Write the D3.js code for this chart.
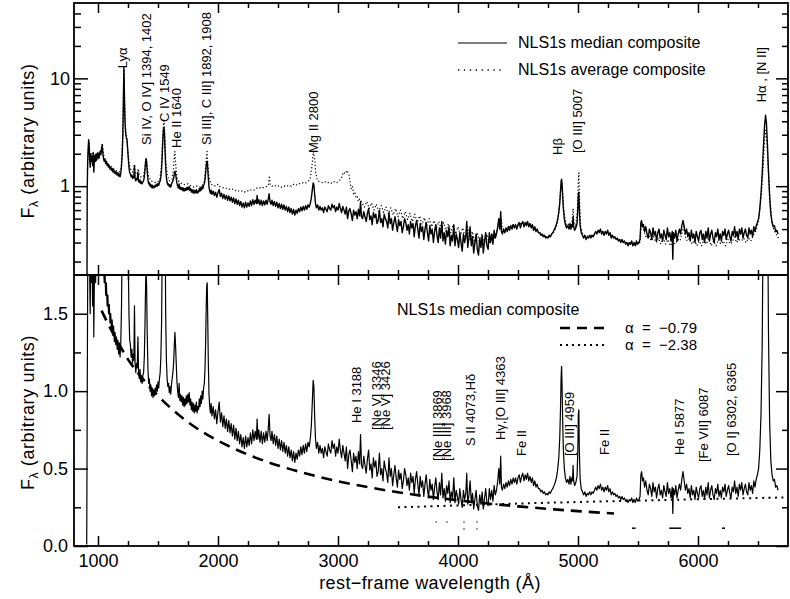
<!DOCTYPE html>
<html>
<head>
<meta charset="utf-8">
<script src="https://cdn.jsdelivr.net/npm/d3@7/dist/d3.min.js"></script>
<style>
  body { margin: 0; background: #fff; }
  svg { display: block; font-family: "Liberation Sans", Arial, sans-serif; }
</style>
</head>
<body>
<svg id="graphArea" width="790" height="599"></svg>
<script>

/* データ ( 波長 Å, フラックス ) */

// メジアン合成スペクトル ( 紫外 )
const medianUV = [
  [906,0.01],[910,0.9],[914,1.7],[918,2.2],[922,2.7],[926,2.4],[930,1.8],[935,1.5],[940,2.0],[945,1.7],
  [950,1.9],[955,1.55],[960,2.05],[965,1.35],[970,1.75],[975,1.95],[980,1.7],[985,2.0],[990,1.75],[995,1.95],
  [1000,2.05],[1006,1.8],[1012,1.95],[1018,2.1],[1024,1.95],[1030,2.25],[1035,2.4],[1040,2.05],[1046,1.8],[1052,1.7],
  [1058,1.78],[1064,1.62],[1070,1.7],[1076,1.55],[1082,1.62],[1088,1.5],[1094,1.56],[1100,1.44],[1106,1.5],[1112,1.4],
  [1118,1.46],[1124,1.36],[1130,1.42],[1136,1.32],[1142,1.38],[1148,1.3],[1154,1.35],[1160,1.27],[1166,1.33],[1172,1.24],
  [1178,1.3],[1184,1.22],[1190,1.32],[1196,1.55],[1202,2.0],[1207,3.0],[1211,5.5],[1214,9.5],[1216,12.6],[1218,10.0],
  [1221,6.0],[1225,4.0],[1230,3.1],[1236,2.8],[1241,2.75],[1246,2.3],[1252,1.85],[1258,1.5],[1264,1.33],[1270,1.3],
  [1276,1.22],[1282,1.27],[1288,1.18],[1294,1.24],[1299,1.2],[1304,1.55],[1309,1.18],[1315,1.12],[1321,1.18],[1327,1.15],
  [1333,1.35],[1338,1.12],[1344,1.08],[1350,1.14],[1356,1.06],[1362,1.1],[1368,1.05],[1374,1.1],[1380,1.12],[1386,1.22],
  [1392,1.45],[1397,1.7],[1401,1.78],[1405,1.68],[1410,1.38],[1416,1.15],[1422,1.05],[1428,1.08],[1434,1.0],[1440,1.04],
  [1446,0.97],[1452,1.02],[1458,0.96],[1464,1.0],[1470,0.97],[1476,1.02],[1482,0.99],[1488,1.04],[1494,1.0],[1500,1.06],
  [1506,1.02],[1512,1.08],[1518,1.12],[1524,1.22],[1530,1.45],[1536,2.0],[1541,2.8],[1546,3.4],[1550,3.5],[1554,3.0],
  [1559,2.1],[1564,1.5],[1570,1.2],[1576,1.08],[1582,1.03],[1588,1.05],[1594,0.99],[1600,1.03],[1606,0.98],[1612,1.04],
  [1618,1.08],[1624,1.12],[1630,1.18],[1636,1.3],[1641,1.38],[1646,1.3],[1652,1.18],[1658,1.06],[1664,1.0],[1670,0.96],
  [1676,1.05],[1682,0.94],[1688,0.98],[1694,0.93],[1700,0.97],[1706,0.91],[1712,0.96],[1718,0.9],[1724,0.95],[1730,0.91],
  [1736,0.97],[1742,0.92],[1748,0.98],[1754,0.93],[1760,0.99],[1766,0.91],[1772,0.95],[1778,0.88],[1784,0.93],[1790,0.87],
  [1796,0.92],[1802,0.86],[1808,0.91],[1814,0.87],[1820,0.93],[1826,0.86],[1832,0.9],[1838,0.88],[1844,0.95],[1850,0.9],
  [1856,0.97],[1862,0.92],[1868,1.0],[1874,0.95],[1880,1.02],[1886,1.05],[1892,1.15],[1897,1.32],[1902,1.55],[1906,1.68],
  [1910,1.7],[1914,1.5],[1919,1.2],[1925,0.98],[1931,0.9],[1937,0.86],[1943,0.92]
];

// メジアン合成スペクトル ( 近紫外 )
const medianNUV = [
  [1950,0.84],[1960,0.9],[1970,0.82],[1980,0.88],[1990,0.79],[2000,0.87],[2010,0.93],[2020,0.8],[2030,0.86],[2040,0.77],
  [2050,0.84],[2060,0.76],[2070,0.82],[2080,0.74],[2090,0.81],[2100,0.73],[2110,0.79],[2120,0.71],[2130,0.78],[2140,0.69],
  [2150,0.76],[2160,0.68],[2170,0.74],[2180,0.66],[2190,0.72],[2200,0.64],[2210,0.7],[2220,0.63],[2230,0.71],[2240,0.64],
  [2250,0.7],[2260,0.65],[2270,0.73],[2280,0.66],[2290,0.75],[2300,0.68],[2310,0.74],[2320,0.69],[2326,0.82],[2332,0.69],
  [2340,0.75],[2350,0.67],[2360,0.74],[2370,0.66],[2380,0.73],[2390,0.67],[2400,0.74],[2410,0.68],[2418,0.75],[2426,0.85],
  [2434,0.71],[2442,0.68],[2450,0.74],[2460,0.66],[2470,0.72],[2480,0.65],[2490,0.71],[2500,0.63],[2510,0.69],[2520,0.62],
  [2530,0.68],[2540,0.61],[2550,0.67],[2560,0.6],[2570,0.65],[2580,0.58],[2590,0.64],[2600,0.57],[2610,0.62],[2620,0.55],
  [2630,0.61],[2640,0.54],[2650,0.6],[2660,0.56],[2670,0.62],[2680,0.58],[2690,0.64],[2700,0.59],[2710,0.65],[2720,0.6],
  [2730,0.66],[2740,0.61],[2750,0.67],[2760,0.64],[2770,0.7],[2778,0.78],[2786,0.93],[2793,1.07],[2799,1.03],[2805,0.85],
  [2812,0.7],[2820,0.63],[2830,0.67],[2840,0.6],[2850,0.65],[2860,0.6],[2870,0.63],[2880,0.57],[2890,0.64],[2900,0.61],
  [2910,0.58],[2920,0.66],[2930,0.62],[2940,0.6],[2950,0.68],[2960,0.63],[2970,0.66],[2980,0.58],[2990,0.64],[3000,0.6],
  [3010,0.69],[3020,0.62],[3030,0.57],[3040,0.65],[3050,0.6],[3060,0.55],[3070,0.64],[3080,0.5],[3090,0.59],[3100,0.62],
  [3110,0.55],[3120,0.48],[3130,0.6],[3140,0.54],[3150,0.58],[3160,0.5],[3170,0.61],[3180,0.53],[3188,0.72],[3196,0.52]
];

// メジアン合成スペクトル ( 青側 )
const medianBlue = [
  [3205,0.5],[3215,0.58],[3225,0.52],[3235,0.47],[3245,0.56],[3255,0.62],[3265,0.49],[3275,0.53],[3285,0.44],[3295,0.57],
  [3305,0.51],[3315,0.55],[3325,0.45],[3335,0.48],[3345,0.6],[3355,0.46],[3365,0.5],[3375,0.42],[3385,0.55],[3395,0.5],
  [3405,0.47],[3415,0.41],[3425,0.57],[3435,0.45],[3445,0.5],[3455,0.39],[3465,0.46],[3475,0.52],[3485,0.44],[3495,0.38],
  [3505,0.49],[3515,0.43],[3525,0.47],[3535,0.37],[3545,0.42],[3555,0.5],[3565,0.46],[3575,0.39],[3585,0.44],[3595,0.36],
  [3605,0.47],[3615,0.41],[3625,0.45],[3635,0.34],[3645,0.43],[3655,0.48],[3665,0.4],[3675,0.33],[3685,0.45],[3695,0.38],
  [3705,0.42],[3715,0.32],[3725,0.4],[3735,0.46],[3745,0.37],[3755,0.31],[3765,0.43],[3775,0.36],[3785,0.4],[3795,0.3],
  [3805,0.38],[3815,0.44],[3825,0.35],[3835,0.3],[3845,0.41],[3855,0.33],[3865,0.47],[3875,0.31],[3885,0.37],[3895,0.29],
  [3905,0.39],[3915,0.34],[3925,0.42],[3935,0.28],[3945,0.35],[3955,0.31],[3965,0.44],[3975,0.28],[3985,0.36],[3995,0.32],
  [4005,0.27],[4015,0.37],[4025,0.3],[4035,0.25],[4045,0.36],[4055,0.3],[4065,0.34],[4073,0.47],[4081,0.27],[4091,0.33],
  [4101,0.42],[4111,0.28],[4121,0.34],[4131,0.24],[4141,0.3],[4151,0.36],[4161,0.26],[4171,0.23],[4181,0.33],[4191,0.27],
  [4201,0.35],[4211,0.24],[4221,0.31],[4231,0.37],[4241,0.28],[4251,0.26],[4261,0.37],[4271,0.3],[4281,0.36],[4291,0.29],
  [4301,0.39],[4311,0.33],[4321,0.36],[4331,0.42],[4340,0.5],[4348,0.4],[4356,0.58],[4362,0.38],[4370,0.36],[4380,0.4],
  [4390,0.37],[4400,0.41],[4410,0.38],[4420,0.42],[4430,0.39],[4440,0.43],[4450,0.4],[4460,0.44],[4470,0.41],[4480,0.44],
  [4490,0.4],[4500,0.44],[4510,0.46],[4520,0.41],[4530,0.45],[4540,0.47],[4550,0.42],[4560,0.46],[4570,0.43],[4580,0.47],
  [4590,0.42],[4600,0.45],[4610,0.41],[4620,0.44],[4630,0.39],[4640,0.42],[4650,0.38],[4660,0.4],[4670,0.37],[4680,0.37],
  [4690,0.35],[4700,0.36],[4710,0.34],[4720,0.35],[4730,0.33],[4740,0.34],[4750,0.33],[4760,0.35],[4770,0.34],[4780,0.36],
  [4790,0.37],[4800,0.39]
];

// メジアン合成スペクトル ( 赤側 )
const medianRed = [
  [4810,0.41],[4820,0.44],[4830,0.49],[4840,0.57],[4848,0.7],[4854,0.88],[4859,1.08],[4863,1.16],[4867,1.05],[4872,0.82],
  [4878,0.62],[4886,0.5],[4895,0.44],[4905,0.41],[4915,0.43],[4925,0.4],[4933,0.45],[4941,0.4],[4948,0.44],[4954,0.42],
  [4959,0.52],[4964,0.42],[4972,0.39],[4982,0.41],[4992,0.45],[4998,0.6],[5003,0.85],[5007,0.88],[5011,0.62],[5018,0.43],
  [5027,0.37],[5037,0.35],[5047,0.33],[5057,0.35],[5067,0.32],[5077,0.34],[5087,0.33],[5097,0.35],[5107,0.33],[5117,0.35],
  [5127,0.34],[5137,0.36],[5147,0.38],[5157,0.36],[5167,0.39],[5177,0.37],[5187,0.4],[5197,0.36],[5207,0.38],[5217,0.35],
  [5227,0.38],[5237,0.36],[5247,0.39],[5257,0.35],[5267,0.37],[5277,0.33],[5287,0.35],[5297,0.33],[5307,0.34],[5317,0.32],
  [5327,0.33],[5337,0.31],[5347,0.32],[5357,0.3],[5367,0.32],[5377,0.3],[5387,0.31],[5397,0.29],[5407,0.3],[5417,0.28],
  [5427,0.3],[5437,0.29],[5447,0.31],[5457,0.28],[5467,0.3],[5477,0.28],[5487,0.31],[5497,0.29],[5507,0.3],[5517,0.32],
  [5524,0.46],[5530,0.48],[5538,0.42],[5546,0.44],[5555,0.38],[5565,0.42],[5575,0.36],[5585,0.33],[5595,0.4],[5605,0.37],
  [5615,0.32],[5625,0.41],[5635,0.35],[5645,0.38],[5655,0.31],[5665,0.37],[5675,0.4],[5685,0.33],[5695,0.36],[5705,0.31],
  [5715,0.39],[5725,0.35],[5735,0.32],[5745,0.41],[5755,0.34],[5765,0.37],[5775,0.31],[5785,0.38],[5790,0.21],[5795,0.37],
  [5805,0.33],[5815,0.39],[5825,0.31],[5835,0.36],[5845,0.4],[5855,0.36],[5865,0.43],[5875,0.48],[5885,0.42],[5895,0.36],
  [5905,0.4],[5915,0.34],[5925,0.37],[5935,0.31],[5945,0.39],[5955,0.33],[5965,0.36],[5975,0.3],[5985,0.38],[5995,0.34],
  [6005,0.31],[6015,0.37],[6025,0.39],[6035,0.32],[6045,0.36],[6055,0.3],[6065,0.38],[6075,0.33],[6085,0.41],[6095,0.31],
  [6105,0.36],[6115,0.39],[6125,0.33],[6135,0.3],[6145,0.37],[6155,0.34],[6165,0.4],[6175,0.32],[6185,0.36],[6195,0.31],
  [6205,0.38],[6215,0.35],[6225,0.4],[6235,0.32],[6245,0.36],[6255,0.39],[6265,0.34],[6275,0.31],[6285,0.38],[6295,0.35],
  [6305,0.42],[6315,0.34],[6325,0.38],[6335,0.32],[6345,0.4],[6355,0.36],[6365,0.41],[6375,0.33],[6385,0.37],[6395,0.4],
  [6405,0.35],[6415,0.33],[6425,0.41],[6435,0.36],[6445,0.39],[6455,0.34],[6465,0.42],[6475,0.38],[6485,0.43],[6495,0.46],
  [6505,0.5],[6515,0.62],[6525,0.85],[6535,1.3],[6545,2.3],[6555,3.7],[6563,4.55],[6570,3.9],[6578,2.5],[6587,1.4],
  [6597,0.8],[6607,0.55],[6617,0.46],[6627,0.42],[6637,0.43],[6647,0.38],[6657,0.39],[6667,0.36]
];

// 平均合成スペクトル ( 上段のみ )
const averageUV = [
  [912,1.4],[918,2.2],[925,2.6],[932,2.0],[940,1.8],[950,2.0],[960,1.7],[970,1.9],[980,1.75],[990,1.9],
  [1000,2.0],[1010,1.85],[1020,2.1],[1030,2.3],[1036,2.5],[1045,2.0],[1055,1.8],[1070,1.7],[1085,1.6],[1100,1.55],
  [1115,1.5],[1130,1.45],[1145,1.4],[1160,1.38],[1175,1.35],[1190,1.4],[1200,1.9],[1207,3.2],[1212,7.0],[1216,12.2],
  [1220,7.5],[1226,4.2],[1233,3.0],[1241,2.7],[1250,2.0],[1260,1.6],[1275,1.4],[1290,1.35],[1304,1.6],[1312,1.3],
  [1325,1.3],[1335,1.45],[1345,1.25],[1365,1.2],[1380,1.25],[1392,1.5],[1400,1.85],[1408,1.6],[1420,1.25],[1440,1.12],
  [1460,1.1],[1480,1.08],[1500,1.1],[1515,1.15],[1528,1.5],[1540,3.0],[1549,4.2],[1556,3.2],[1565,1.7],[1578,1.25],
  [1595,1.12],[1615,1.15],[1628,1.4],[1636,1.9],[1641,2.1],[1647,1.6],[1658,1.2],[1675,1.1],[1700,1.05],[1725,1.03],
  [1750,1.05],[1775,1.0],[1800,0.98],[1825,1.0],[1850,0.98],[1870,1.02],[1885,1.1],[1897,1.5],[1904,1.9],[1909,2.1],
  [1915,1.6],[1925,1.2],[1940,1.05]
];

const averageNUV = [
  [1960,1.02],[1980,1.0],[2000,1.04],[2020,0.98],[2040,0.97],[2060,0.95],[2080,0.96],[2100,0.93],[2120,0.94],[2140,0.91],
  [2160,0.92],[2180,0.89],[2200,0.9],[2220,0.88],[2240,0.91],[2260,0.9],[2280,0.93],[2300,0.92],[2320,0.96],[2340,0.95],
  [2360,0.98],[2380,0.97],[2400,0.99],[2420,1.02],[2428,1.25],[2436,1.02],[2450,1.0],[2470,1.02],[2490,0.99],[2510,1.01],
  [2530,0.98],[2550,1.0],[2570,0.99],[2590,1.02],[2610,1.0],[2630,1.04],[2650,1.02],[2670,1.06],[2690,1.05],[2710,1.08],
  [2730,1.07],[2750,1.1],[2770,1.2],[2785,1.6],[2795,2.1],[2805,1.8],[2815,1.3],[2830,1.12],[2850,1.1],[2870,1.08],
  [2890,1.1],[2910,1.07],[2930,1.09],[2950,1.06],[2970,1.1],[2990,1.08],[3010,1.12],[3030,1.2],[3045,1.35],[3060,1.3],
  [3075,1.4],[3090,1.3],[3100,1.1],[3110,0.95],[3120,1.0],[3130,0.85],[3140,0.88],[3150,0.78],[3160,0.8],[3170,0.72],
  [3180,0.76]
];

const averageBlue = [
  [3200,0.7],[3220,0.64],[3240,0.72],[3260,0.62],[3280,0.7],[3300,0.6],[3320,0.68],[3340,0.58],[3360,0.66],[3380,0.57],
  [3400,0.64],[3420,0.55],[3440,0.63],[3460,0.54],[3480,0.62],[3500,0.52],[3520,0.6],[3540,0.5],[3560,0.58],[3580,0.49],
  [3600,0.56],[3620,0.47],[3640,0.55],[3660,0.46],[3680,0.53],[3700,0.44],[3720,0.51],[3740,0.43],[3760,0.5],[3780,0.42],
  [3800,0.48],[3820,0.41],[3840,0.47],[3860,0.4],[3880,0.46],[3900,0.38],[3920,0.45],[3940,0.37],[3960,0.44],[3980,0.36],
  [4000,0.42],[4020,0.35],[4040,0.41],[4060,0.33],[4080,0.42],[4100,0.32],[4120,0.38],[4140,0.3],[4160,0.37],[4180,0.3],
  [4200,0.36],[4220,0.29],[4240,0.36],[4260,0.3],[4280,0.36],[4300,0.32],[4320,0.38],[4340,0.45],[4350,0.42],[4360,0.5],
  [4370,0.4],[4400,0.4],[4430,0.42],[4460,0.44],[4490,0.42],[4520,0.45],[4550,0.44],[4580,0.46],[4610,0.43],[4640,0.4],
  [4670,0.38],[4700,0.36],[4730,0.34],[4760,0.34],[4790,0.36]
];

const averageRed = [
  [4810,0.4],[4830,0.47],[4845,0.65],[4855,0.95],[4862,1.15],[4870,0.95],[4880,0.62],[4895,0.47],[4910,0.43],[4930,0.45],
  [4945,0.44],[4953,0.5],[4959,0.62],[4966,0.46],[4980,0.42],[4995,0.6],[5002,1.1],[5007,1.33],[5013,0.75],[5022,0.42],
  [5040,0.36],[5070,0.34],[5100,0.35],[5130,0.35],[5160,0.37],[5190,0.39],[5220,0.37],[5250,0.37],[5280,0.35],[5310,0.33],
  [5340,0.32],[5370,0.31],[5400,0.3],[5430,0.29],[5460,0.29],[5490,0.29],[5515,0.3],[5525,0.42],[5535,0.44],[5550,0.38],
  [5570,0.33],[5590,0.35],[5610,0.31],[5630,0.34],[5650,0.3],[5670,0.33],[5690,0.29],[5710,0.33],[5730,0.29],[5750,0.32],
  [5770,0.28],[5790,0.31],[5810,0.29],[5830,0.32],[5850,0.31],[5870,0.38],[5880,0.42],[5895,0.34],[5910,0.31],[5930,0.33],
  [5950,0.29],[5970,0.32],[5990,0.28],[6010,0.31],[6030,0.28],[6050,0.32],[6070,0.29],[6090,0.33],[6110,0.28],[6130,0.31],
  [6150,0.28],[6170,0.32],[6190,0.29],[6210,0.31],[6230,0.28],[6250,0.32],[6270,0.29],[6290,0.31],[6305,0.35],[6320,0.3],
  [6340,0.32],[6360,0.31],[6380,0.33],[6400,0.3],[6420,0.33],[6440,0.31],[6460,0.35],[6480,0.38],[6500,0.45],[6515,0.6],
  [6530,0.9],[6545,1.7],[6555,2.7],[6565,3.3],[6575,2.6],[6585,1.5],[6600,0.75],[6615,0.48],[6630,0.4],[6650,0.36],
  [6670,0.33]
];

// べき乗則 ( 図から読んだ点 )
const powerLaw079 = [
  [1030,1.52],[1100,1.41],[1200,1.27],[1300,1.15],[1500,0.97],[1750,0.80],[2000,0.68],[2250,0.59],[2500,0.52],
  [2750,0.465],[3000,0.418],[3250,0.38],[3500,0.347],[3750,0.319],[4000,0.295],[4250,0.274],[4500,0.256],
  [4750,0.24],[5000,0.225],[5300,0.21]
];
const powerLaw238 = [
  [3500,0.25],[4000,0.262],[4500,0.274],[5000,0.284],[5500,0.293],[6000,0.302],[6500,0.31],[6750,0.314]
];

// 下段の小さな印 ( 波長1, 波長2, フラックス )
const smallMarks = [
  [3814,3822,0.155],[3904,3912,0.155],[4046,4054,0.155],[4046,4054,0.11],[4154,4162,0.155],[4154,4162,0.11],
  [5450,5480,0.115],[5760,5860,0.115],[6200,6225,0.115]
];

// 輝線ラベル ( テキスト行, 波長, ラベル下端のフラックス )
const topLines = [
  [["Lyα"], 1204, 12.4], [["Si IV, O IV] 1394, 1402"], 1408, 2.41], [["C IV 1549"], 1554, 3.94],
  [["He II 1640"], 1650, 2.26], [["Si III], C III] 1892, 1908"], 1904, 2.41], [["Mg II 2800"], 2792, 2.03],
  [["Hβ"], 4825, 1.95], [["[O III] 5007"], 4992, 2.03], [["Hα , [N II]"], 6533, 6.0]
];
const bottomLines = [
  [["He I 3188"], 3158, 0.794], [["[Ne V] 3346", "[Ne V] 3426"], 3317, 0.749],
  [["[Ne III] 3869", "[Ne III] 3968"], 3825, 0.549], [["S II 4073,Hδ"], 4100, 0.646],
  [["Hγ,[O III] 4363"], 4350, 0.684], [["Fe II"], 4533, 0.581], [["[O III] 4959"], 4925, 0.581],
  [["Fe II"], 5217, 0.588], [["He I 5877"], 5842, 0.588], [["[Fe VII] 6087"], 6042, 0.542],
  [["[O I] 6302, 6365"], 6283, 0.581]
];

// 軸の範囲と目盛り
const xDomain = [800, 6750];
const xMajorTicks = [1000, 2000, 3000, 4000, 5000, 6000];
const xMinorTicks = [1250, 1500, 1750, 2250, 2500, 2750, 3250, 3500, 3750, 4250, 4500, 4750,
  5250, 5500, 5750, 6250, 6500];
const yTopDomain = [0.15, 50];
const yTopMajor = [1, 10];
const yTopMinor = [0.2, 0.3, 0.4, 0.5, 0.6, 0.7, 0.8, 0.9, 2, 3, 4, 5, 6, 7, 8, 9, 20, 30, 40];
const yBotDomain = [0, 1.75];
const yBotMajor = [0, 0.5, 1.0, 1.5];
const yBotMinor = [0.25, 0.75, 1.25];


/* 描画 */

const svg = d3.select("#graphArea");
const pLeft = 74, pRight = 788, pTop = 3, pMid = 275, pBottom = 546;

// スケール
const x = d3.scaleLinear().domain(xDomain).range([pLeft, pRight]);
const yTop = d3.scaleLog().domain(yTopDomain).range([pMid, pTop]);
const yBot = d3.scaleLinear().domain(yBotDomain).range([pBottom, pMid]);

// クリップ領域
const defs = svg.append("defs");
defs.append("clipPath").attr("id", "clipTop").append("rect")
  .attr("x", pLeft).attr("y", pTop).attr("width", pRight - pLeft).attr("height", pMid - pTop);
defs.append("clipPath").attr("id", "clipBot").append("rect")
  .attr("x", pLeft).attr("y", pMid).attr("width", pRight - pLeft).attr("height", pBottom - pMid);

const median = [].concat(medianUV, medianNUV, medianBlue, medianRed);
const average = [].concat(averageUV, averageNUV, averageBlue, averageRed);

/* 線を描く */
function drawLine(clip, data, y, style, curve) {
  let line = d3.line()
    .x(d => x(d[0]))
    .y(d => y(d[1]))
    .curve(curve || d3.curveLinear);
  let path = svg.append("path")
    .attr("clip-path", `url(#${clip})`)
    .attr("d", line(data))
    .attr("fill", "none")
    .attr("stroke", "#000")
    .attr("stroke-linejoin", "round");
  Object.entries(style).forEach(([k, v]) => path.attr(k, v));
  return path;
}

// 上段: メジアンと平均
drawLine("clipTop", average, yTop, {"stroke-width": 1.2, "stroke-dasharray": "1.2,2.2"});
drawLine("clipTop", median, yTop, {"stroke-width": 1.4});

// 下段: メジアンとべき乗則
drawLine("clipBot", median, yBot, {"stroke-width": 1.2});
drawLine("clipBot", powerLaw079, yBot, {"stroke-width": 2.6, "stroke-dasharray": "11,7"}, d3.curveNatural);
drawLine("clipBot", powerLaw238, yBot, {"stroke-width": 2, "stroke-dasharray": "2,4.5"}, d3.curveNatural);

// 小さな印
svg.append("g").selectAll("line")
  .data(smallMarks)
  .join("line")
  .attr("x1", d => x(d[0])).attr("x2", d => x(d[1]))
  .attr("y1", d => yBot(d[2])).attr("y2", d => yBot(d[2]))
  .attr("stroke", "#000").attr("stroke-width", 1.5);

/* 目盛り線を作る */
function ticks(axis, transform) {
  let g = svg.append("g")
    .attr("transform", transform)
    .call(axis.tickFormat(""));
  g.select(".domain").remove();
  g.selectAll("line")
    .attr("stroke", "#000")
    .attr("stroke-width", 1.5);
  return g;
}

// x 方向の目盛り ( 各段の上下 )
[pTop, pMid].forEach(yy => {
  ticks(d3.axisBottom(x).tickValues(xMajorTicks).tickSize(10), `translate(0,${yy})`);
  ticks(d3.axisBottom(x).tickValues(xMinorTicks).tickSize(5), `translate(0,${yy})`);
});
[pMid, pBottom].forEach(yy => {
  ticks(d3.axisTop(x).tickValues(xMajorTicks).tickSize(10), `translate(0,${yy})`);
  ticks(d3.axisTop(x).tickValues(xMinorTicks).tickSize(5), `translate(0,${yy})`);
});

// y 方向の目盛り ( 左右 )
[[yTop, yTopMajor, yTopMinor], [yBot, yBotMajor, yBotMinor]].forEach(([y, major, minor]) => {
  ticks(d3.axisRight(y).tickValues(major).tickSize(14), `translate(${pLeft},0)`);
  ticks(d3.axisRight(y).tickValues(minor).tickSize(7), `translate(${pLeft},0)`);
  ticks(d3.axisLeft(y).tickValues(major).tickSize(12), `translate(${pRight},0)`);
  ticks(d3.axisLeft(y).tickValues(minor).tickSize(6), `translate(${pRight},0)`);
});

// 枠
svg.append("rect")
  .attr("x", pLeft).attr("y", pTop)
  .attr("width", pRight - pLeft).attr("height", pBottom - pTop)
  .attr("fill", "none").attr("stroke", "#000").attr("stroke-width", 1.8);
svg.append("line")
  .attr("x1", pLeft).attr("x2", pRight).attr("y1", pMid).attr("y2", pMid)
  .attr("stroke", "#000").attr("stroke-width", 1.8);

/* 目盛りラベル */
function labels(axis, transform) {
  let g = svg.append("g")
    .attr("transform", transform)
    .call(axis);
  g.select(".domain").remove();
  g.attr("font-size", 18)
    .attr("font-family", "'Liberation Sans', Arial, sans-serif");
  return g;
}
labels(d3.axisBottom(x).tickValues(xMajorTicks).tickSize(0).tickPadding(8)
  .tickFormat(d3.format("d")), `translate(0,${pBottom})`);
labels(d3.axisLeft(yTop).tickValues(yTopMajor).tickSize(0).tickPadding(4)
  .tickFormat(d3.format("d")), `translate(${pLeft},0)`);
labels(d3.axisLeft(yBot).tickValues(yBotMajor).tickSize(0).tickPadding(6)
  .tickFormat(d3.format(".1f")), `translate(${pLeft},0)`);

// 軸タイトル
svg.append("text")
  .attr("x", 430).attr("y", 589)
  .attr("text-anchor", "middle")
  .attr("font-size", 18)
  .attr("letter-spacing", 0.4)
  .text("rest−frame wavelength (Å)");

[(pTop + pMid) / 2 + 2, (pMid + pBottom) / 2 + 2].forEach(cy => {
  let t = svg.append("text")
    .attr("transform", `translate(34,${cy}) rotate(-90)`)
    .attr("text-anchor", "middle")
    .attr("font-size", 18)
    .attr("letter-spacing", 0.6);
  t.append("tspan").text("F");
  t.append("tspan").attr("font-size", 12).attr("dy", 4).text("λ");
  t.append("tspan").attr("dy", -4).text(" (arbitrary units)");
});

/* 輝線ラベル ( 縦書き、2 行のものは少し重ねる ) */
function lineLabels(list, y) {
  svg.append("g")
    .selectAll("text")
    .data(list)
    .join("text")
    .attr("transform", d => `translate(${x(d[1]) + 4.5},${y(d[2])}) rotate(-90)`)
    .attr("font-size", 13)
    .selectAll("tspan")
    .data(d => d[0])
    .join("tspan")
    .attr("x", 0)
    .attr("dy", (d, i) => i === 0 ? 0 : 9.5)
    .text(d => d);
}
lineLabels(topLines, yTop);
lineLabels(bottomLines, yBot);

/* 凡例 */
function legendLine(x1, x2, yy, style) {
  let l = svg.append("line")
    .attr("x1", x1).attr("x2", x2).attr("y1", yy).attr("y2", yy)
    .attr("stroke", "#000");
  Object.entries(style).forEach(([k, v]) => l.attr(k, v));
}
function legendText(xx, yy, size, text) {
  svg.append("text").attr("x", xx).attr("y", yy)
    .attr("font-size", size).style("white-space", "pre").text(text);
}

// 上段
legendLine(458, 507, 43, {"stroke-width": 1.2});
legendText(518, 48, 16, "NLS1s median composite");
legendLine(458, 503, 70, {"stroke-width": 1.3, "stroke-dasharray": "1.3,4.6"});
legendText(518, 75, 16, "NLS1s average composite");

// 下段
legendText(397, 315, 16, "NLS1s median composite");
legendLine(560, 604, 328, {"stroke-width": 2.6, "stroke-dasharray": "10,7"});
legendText(625, 333, 15, "α  =  −0.79");
legendLine(560, 604, 345, {"stroke-width": 2, "stroke-dasharray": "2,4"});
legendText(625, 350, 15, "α  =  −2.38");

</script>
</body>
</html>
